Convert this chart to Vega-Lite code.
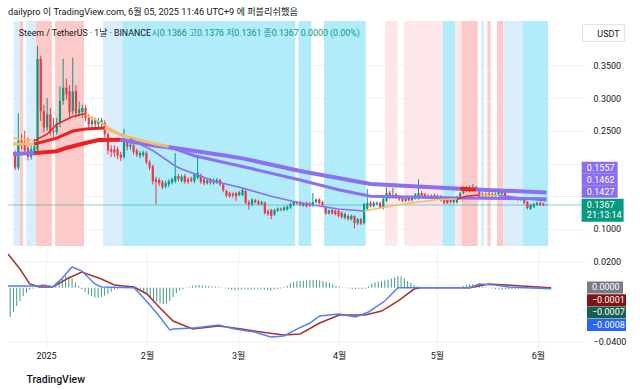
{
  "$schema": "https://vega.github.io/schema/vega-lite/v6.json",
  "padding": {"left": 7, "top": 7, "right": 0, "bottom": 0},
  "background": "white",
  "spacing": 3,
  "title": {"text": "dailypro 이 TradingView.com, 6월 05, 2025 11:46 UTC+9 에 퍼블리쉬했음", "anchor": "start", "frame": "group", "fontSize": 9.2, "fontWeight": "normal", "color": "#131722", "offset": 4},
  "config": {
    "font": "Roboto, 'Noto Sans CJK KR', sans-serif",
    "view": {"stroke": null},
    "axis": {"gridColor": "#eef1f6", "labelColor": "#131722", "labelFontSize": 9, "labelFont": "Roboto, 'Noto Sans CJK KR', sans-serif"}
  },
  "datasets": {
    "candles": [
      {"date": "2024-12-21", "open": 0.2145, "high": 0.22, "low": 0.19, "close": 0.194, "hist": -0.022},
      {"date": "2024-12-22", "open": 0.194, "high": 0.277, "low": 0.19, "close": 0.235, "hist": -0.018},
      {"date": "2024-12-23", "open": 0.235, "high": 0.245, "low": 0.222, "close": 0.228, "hist": -0.0137},
      {"date": "2024-12-24", "open": 0.232, "high": 0.25, "low": 0.215, "close": 0.22, "hist": -0.01},
      {"date": "2024-12-25", "open": 0.224, "high": 0.24, "low": 0.205, "close": 0.21, "hist": -0.0062},
      {"date": "2024-12-26", "open": 0.21, "high": 0.228, "low": 0.206, "close": 0.222, "hist": -0.0037},
      {"date": "2024-12-27", "open": 0.218, "high": 0.238, "low": 0.212, "close": 0.226, "hist": -0.0017},
      {"date": "2024-12-28", "open": 0.22, "high": 0.38, "low": 0.215, "close": 0.36, "hist": -0.0007},
      {"date": "2024-12-29", "open": 0.36, "high": 0.365, "low": 0.265, "close": 0.28, "hist": 0.0003},
      {"date": "2024-12-30", "open": 0.28, "high": 0.29, "low": 0.248, "close": 0.255, "hist": -0.0003},
      {"date": "2024-12-31", "open": 0.255, "high": 0.30, "low": 0.25, "close": 0.275, "hist": 0.0002},
      {"date": "2025-01-01", "open": 0.275, "high": 0.285, "low": 0.243, "close": 0.25, "hist": -0.0002},
      {"date": "2025-01-02", "open": 0.25, "high": 0.27, "low": 0.24, "close": 0.248, "hist": 0.0003},
      {"date": "2025-01-03", "open": 0.248, "high": 0.27, "low": 0.244, "close": 0.262, "hist": 0.0008},
      {"date": "2025-01-04", "open": 0.262, "high": 0.318, "low": 0.255, "close": 0.296, "hist": 0.002},
      {"date": "2025-01-05", "open": 0.296, "high": 0.36, "low": 0.29, "close": 0.316, "hist": 0.005},
      {"date": "2025-01-06", "open": 0.316, "high": 0.33, "low": 0.298, "close": 0.306, "hist": 0.007},
      {"date": "2025-01-07", "open": 0.311, "high": 0.32, "low": 0.27, "close": 0.278, "hist": 0.0087},
      {"date": "2025-01-08", "open": 0.28, "high": 0.362, "low": 0.275, "close": 0.31, "hist": 0.0085},
      {"date": "2025-01-09", "open": 0.311, "high": 0.32, "low": 0.27, "close": 0.277, "hist": 0.007},
      {"date": "2025-01-10", "open": 0.277, "high": 0.295, "low": 0.272, "close": 0.283, "hist": 0.004},
      {"date": "2025-01-11", "open": 0.279, "high": 0.29, "low": 0.27, "close": 0.285, "hist": 0.0015},
      {"date": "2025-01-12", "open": 0.285, "high": 0.29, "low": 0.265, "close": 0.27, "hist": -0.001},
      {"date": "2025-01-13", "open": 0.27, "high": 0.276, "low": 0.255, "close": 0.26, "hist": -0.003},
      {"date": "2025-01-14", "open": 0.26, "high": 0.272, "low": 0.252, "close": 0.266, "hist": -0.005},
      {"date": "2025-01-15", "open": 0.266, "high": 0.27, "low": 0.256, "close": 0.26, "hist": -0.0065},
      {"date": "2025-01-16", "open": 0.26, "high": 0.27, "low": 0.254, "close": 0.265, "hist": -0.0075},
      {"date": "2025-01-17", "open": 0.262, "high": 0.27, "low": 0.255, "close": 0.266, "hist": -0.0077},
      {"date": "2025-01-18", "open": 0.262, "high": 0.266, "low": 0.24, "close": 0.245, "hist": -0.007},
      {"date": "2025-01-19", "open": 0.245, "high": 0.248, "low": 0.214, "close": 0.22, "hist": -0.006},
      {"date": "2025-01-20", "open": 0.222, "high": 0.228, "low": 0.21, "close": 0.218, "hist": -0.0045},
      {"date": "2025-01-21", "open": 0.222, "high": 0.228, "low": 0.21, "close": 0.217, "hist": -0.003},
      {"date": "2025-01-22", "open": 0.222, "high": 0.226, "low": 0.207, "close": 0.212, "hist": -0.0015},
      {"date": "2025-01-23", "open": 0.214, "high": 0.218, "low": 0.204, "close": 0.209, "hist": -0.0008},
      {"date": "2025-01-24", "open": 0.21, "high": 0.253, "low": 0.207, "close": 0.233, "hist": -0.0003},
      {"date": "2025-01-25", "open": 0.233, "high": 0.237, "low": 0.22, "close": 0.226, "hist": -0.0003},
      {"date": "2025-01-26", "open": 0.226, "high": 0.232, "low": 0.221, "close": 0.229, "hist": -0.0003},
      {"date": "2025-01-27", "open": 0.228, "high": 0.23, "low": 0.214, "close": 0.218, "hist": -0.0003},
      {"date": "2025-01-28", "open": 0.22, "high": 0.223, "low": 0.21, "close": 0.214, "hist": -0.0005},
      {"date": "2025-01-29", "open": 0.212, "high": 0.219, "low": 0.208, "close": 0.216, "hist": -0.0005},
      {"date": "2025-01-30", "open": 0.213, "high": 0.22, "low": 0.21, "close": 0.217, "hist": -0.001},
      {"date": "2025-01-31", "open": 0.216, "high": 0.219, "low": 0.199, "close": 0.202, "hist": -0.003},
      {"date": "2025-02-01", "open": 0.202, "high": 0.205, "low": 0.19, "close": 0.194, "hist": -0.005},
      {"date": "2025-02-02", "open": 0.196, "high": 0.198, "low": 0.168, "close": 0.173, "hist": -0.007},
      {"date": "2025-02-03", "open": 0.176, "high": 0.18, "low": 0.138, "close": 0.172, "hist": -0.009},
      {"date": "2025-02-04", "open": 0.175, "high": 0.178, "low": 0.166, "close": 0.17, "hist": -0.0105},
      {"date": "2025-02-05", "open": 0.172, "high": 0.175, "low": 0.161, "close": 0.164, "hist": -0.0118},
      {"date": "2025-02-06", "open": 0.165, "high": 0.174, "low": 0.162, "close": 0.17, "hist": -0.0123},
      {"date": "2025-02-07", "open": 0.168, "high": 0.176, "low": 0.164, "close": 0.173, "hist": -0.0118},
      {"date": "2025-02-08", "open": 0.171, "high": 0.179, "low": 0.168, "close": 0.176, "hist": -0.01},
      {"date": "2025-02-09", "open": 0.173, "high": 0.216, "low": 0.17, "close": 0.181, "hist": -0.007},
      {"date": "2025-02-10", "open": 0.181, "high": 0.184, "low": 0.173, "close": 0.176, "hist": -0.004},
      {"date": "2025-02-11", "open": 0.174, "high": 0.183, "low": 0.171, "close": 0.18, "hist": -0.002},
      {"date": "2025-02-12", "open": 0.181, "high": 0.184, "low": 0.169, "close": 0.172, "hist": -0.001},
      {"date": "2025-02-13", "open": 0.176, "high": 0.179, "low": 0.169, "close": 0.172, "hist": -0.0003},
      {"date": "2025-02-14", "open": 0.177, "high": 0.18, "low": 0.171, "close": 0.174, "hist": 0.0005},
      {"date": "2025-02-15", "open": 0.173, "high": 0.186, "low": 0.17, "close": 0.183, "hist": 0.0015},
      {"date": "2025-02-16", "open": 0.178, "high": 0.209, "low": 0.176, "close": 0.186, "hist": 0.002},
      {"date": "2025-02-17", "open": 0.182, "high": 0.185, "low": 0.169, "close": 0.172, "hist": 0.002},
      {"date": "2025-02-18", "open": 0.176, "high": 0.178, "low": 0.167, "close": 0.17, "hist": 0.0018},
      {"date": "2025-02-19", "open": 0.17, "high": 0.177, "low": 0.168, "close": 0.174, "hist": 0.0015},
      {"date": "2025-02-20", "open": 0.175, "high": 0.178, "low": 0.168, "close": 0.171, "hist": 0.0012},
      {"date": "2025-02-21", "open": 0.17, "high": 0.177, "low": 0.168, "close": 0.175, "hist": 0.001},
      {"date": "2025-02-22", "open": 0.171, "high": 0.178, "low": 0.169, "close": 0.175, "hist": 0.0008},
      {"date": "2025-02-23", "open": 0.175, "high": 0.177, "low": 0.165, "close": 0.168, "hist": 0.0005},
      {"date": "2025-02-24", "open": 0.168, "high": 0.17, "low": 0.156, "close": 0.159, "hist": 0.0002},
      {"date": "2025-02-25", "open": 0.158, "high": 0.16, "low": 0.148, "close": 0.151, "hist": -0.0005},
      {"date": "2025-02-26", "open": 0.155, "high": 0.157, "low": 0.148, "close": 0.15, "hist": -0.001},
      {"date": "2025-02-27", "open": 0.154, "high": 0.156, "low": 0.148, "close": 0.151, "hist": -0.0015},
      {"date": "2025-02-28", "open": 0.155, "high": 0.157, "low": 0.143, "close": 0.15, "hist": -0.0018},
      {"date": "2025-03-01", "open": 0.152, "high": 0.158, "low": 0.15, "close": 0.156, "hist": -0.0015},
      {"date": "2025-03-02", "open": 0.152, "high": 0.162, "low": 0.15, "close": 0.16, "hist": -0.0012},
      {"date": "2025-03-03", "open": 0.158, "high": 0.161, "low": 0.138, "close": 0.14, "hist": -0.0012},
      {"date": "2025-03-04", "open": 0.141, "high": 0.144, "low": 0.13, "close": 0.137, "hist": -0.0015},
      {"date": "2025-03-05", "open": 0.138, "high": 0.147, "low": 0.135, "close": 0.145, "hist": -0.0015},
      {"date": "2025-03-06", "open": 0.144, "high": 0.146, "low": 0.139, "close": 0.141, "hist": -0.0012},
      {"date": "2025-03-07", "open": 0.142, "high": 0.145, "low": 0.136, "close": 0.138, "hist": -0.0012},
      {"date": "2025-03-08", "open": 0.138, "high": 0.143, "low": 0.136, "close": 0.141, "hist": -0.0013},
      {"date": "2025-03-09", "open": 0.14, "high": 0.142, "low": 0.122, "close": 0.124, "hist": -0.0015},
      {"date": "2025-03-10", "open": 0.127, "high": 0.13, "low": 0.12, "close": 0.123, "hist": -0.0018},
      {"date": "2025-03-11", "open": 0.129, "high": 0.131, "low": 0.115, "close": 0.12, "hist": -0.002},
      {"date": "2025-03-12", "open": 0.122, "high": 0.131, "low": 0.12, "close": 0.129, "hist": -0.0015},
      {"date": "2025-03-13", "open": 0.128, "high": 0.133, "low": 0.126, "close": 0.131, "hist": -0.001},
      {"date": "2025-03-14", "open": 0.131, "high": 0.133, "low": 0.127, "close": 0.129, "hist": -0.0005},
      {"date": "2025-03-15", "open": 0.129, "high": 0.135, "low": 0.127, "close": 0.133, "hist": 0.0005},
      {"date": "2025-03-16", "open": 0.13, "high": 0.136, "low": 0.128, "close": 0.134, "hist": 0.0015},
      {"date": "2025-03-17", "open": 0.133, "high": 0.14, "low": 0.131, "close": 0.138, "hist": 0.003},
      {"date": "2025-03-18", "open": 0.137, "high": 0.143, "low": 0.135, "close": 0.141, "hist": 0.004},
      {"date": "2025-03-19", "open": 0.141, "high": 0.143, "low": 0.137, "close": 0.139, "hist": 0.0048},
      {"date": "2025-03-20", "open": 0.141, "high": 0.143, "low": 0.135, "close": 0.137, "hist": 0.005},
      {"date": "2025-03-21", "open": 0.136, "high": 0.141, "low": 0.134, "close": 0.139, "hist": 0.0052},
      {"date": "2025-03-22", "open": 0.14, "high": 0.142, "low": 0.133, "close": 0.135, "hist": 0.0055},
      {"date": "2025-03-23", "open": 0.139, "high": 0.141, "low": 0.134, "close": 0.136, "hist": 0.0058},
      {"date": "2025-03-24", "open": 0.136, "high": 0.155, "low": 0.134, "close": 0.141, "hist": 0.0058},
      {"date": "2025-03-25", "open": 0.141, "high": 0.147, "low": 0.139, "close": 0.145, "hist": 0.0058},
      {"date": "2025-03-26", "open": 0.145, "high": 0.147, "low": 0.137, "close": 0.139, "hist": 0.0055},
      {"date": "2025-03-27", "open": 0.141, "high": 0.143, "low": 0.134, "close": 0.136, "hist": 0.005},
      {"date": "2025-03-28", "open": 0.133, "high": 0.135, "low": 0.122, "close": 0.124, "hist": 0.0045},
      {"date": "2025-03-29", "open": 0.124, "high": 0.13, "low": 0.122, "close": 0.128, "hist": 0.0035},
      {"date": "2025-03-30", "open": 0.129, "high": 0.131, "low": 0.122, "close": 0.124, "hist": 0.0025},
      {"date": "2025-03-31", "open": 0.128, "high": 0.13, "low": 0.121, "close": 0.123, "hist": 0.0015},
      {"date": "2025-04-01", "open": 0.128, "high": 0.13, "low": 0.118, "close": 0.12, "hist": 0.0008},
      {"date": "2025-04-02", "open": 0.125, "high": 0.127, "low": 0.116, "close": 0.118, "hist": 0.0003},
      {"date": "2025-04-03", "open": 0.117, "high": 0.125, "low": 0.115, "close": 0.123, "hist": -0.0003},
      {"date": "2025-04-04", "open": 0.12, "high": 0.122, "low": 0.113, "close": 0.115, "hist": -0.0006},
      {"date": "2025-04-05", "open": 0.115, "high": 0.122, "low": 0.113, "close": 0.12, "hist": -0.0008},
      {"date": "2025-04-06", "open": 0.12, "high": 0.121, "low": 0.101, "close": 0.109, "hist": -0.001},
      {"date": "2025-04-07", "open": 0.109, "high": 0.117, "low": 0.106, "close": 0.115, "hist": -0.001},
      {"date": "2025-04-08", "open": 0.115, "high": 0.117, "low": 0.106, "close": 0.108, "hist": -0.0012},
      {"date": "2025-04-09", "open": 0.109, "high": 0.14, "low": 0.107, "close": 0.138, "hist": -0.0008},
      {"date": "2025-04-10", "open": 0.131, "high": 0.161, "low": 0.129, "close": 0.14, "hist": 0.001},
      {"date": "2025-04-11", "open": 0.14, "high": 0.143, "low": 0.133, "close": 0.135, "hist": 0.003},
      {"date": "2025-04-12", "open": 0.135, "high": 0.142, "low": 0.133, "close": 0.14, "hist": 0.004},
      {"date": "2025-04-13", "open": 0.138, "high": 0.142, "low": 0.136, "close": 0.14, "hist": 0.0045},
      {"date": "2025-04-14", "open": 0.14, "high": 0.142, "low": 0.131, "close": 0.133, "hist": 0.005},
      {"date": "2025-04-15", "open": 0.132, "high": 0.148, "low": 0.13, "close": 0.146, "hist": 0.0055},
      {"date": "2025-04-16", "open": 0.143, "high": 0.163, "low": 0.141, "close": 0.155, "hist": 0.006},
      {"date": "2025-04-17", "open": 0.155, "high": 0.158, "low": 0.146, "close": 0.148, "hist": 0.0068},
      {"date": "2025-04-18", "open": 0.149, "high": 0.163, "low": 0.147, "close": 0.152, "hist": 0.0078},
      {"date": "2025-04-19", "open": 0.153, "high": 0.155, "low": 0.146, "close": 0.148, "hist": 0.0087},
      {"date": "2025-04-20", "open": 0.15, "high": 0.152, "low": 0.143, "close": 0.145, "hist": 0.0085},
      {"date": "2025-04-21", "open": 0.148, "high": 0.15, "low": 0.141, "close": 0.143, "hist": 0.007},
      {"date": "2025-04-22", "open": 0.143, "high": 0.149, "low": 0.141, "close": 0.147, "hist": 0.005},
      {"date": "2025-04-23", "open": 0.148, "high": 0.15, "low": 0.142, "close": 0.144, "hist": 0.0035},
      {"date": "2025-04-24", "open": 0.144, "high": 0.151, "low": 0.142, "close": 0.149, "hist": 0.002},
      {"date": "2025-04-25", "open": 0.147, "high": 0.155, "low": 0.145, "close": 0.153, "hist": 0.001},
      {"date": "2025-04-26", "open": 0.147, "high": 0.176, "low": 0.145, "close": 0.155, "hist": 0.0003},
      {"date": "2025-04-27", "open": 0.155, "high": 0.158, "low": 0.149, "close": 0.151, "hist": 0.0001},
      {"date": "2025-04-28", "open": 0.153, "high": 0.155, "low": 0.146, "close": 0.148, "hist": 0.0001},
      {"date": "2025-04-29", "open": 0.151, "high": 0.153, "low": 0.146, "close": 0.148, "hist": 0.0001},
      {"date": "2025-04-30", "open": 0.149, "high": 0.153, "low": 0.147, "close": 0.151, "hist": 0.0001},
      {"date": "2025-05-01", "open": 0.152, "high": 0.154, "low": 0.146, "close": 0.148, "hist": 0.0001},
      {"date": "2025-05-02", "open": 0.148, "high": 0.153, "low": 0.146, "close": 0.151, "hist": 0.0001},
      {"date": "2025-05-03", "open": 0.15, "high": 0.152, "low": 0.142, "close": 0.144, "hist": 0.0001},
      {"date": "2025-05-04", "open": 0.146, "high": 0.148, "low": 0.138, "close": 0.14, "hist": 0.0001},
      {"date": "2025-05-05", "open": 0.146, "high": 0.148, "low": 0.138, "close": 0.14, "hist": 0.0001},
      {"date": "2025-05-06", "open": 0.146, "high": 0.148, "low": 0.139, "close": 0.141, "hist": 0.0001},
      {"date": "2025-05-07", "open": 0.141, "high": 0.147, "low": 0.139, "close": 0.145, "hist": 0.0001},
      {"date": "2025-05-08", "open": 0.141, "high": 0.151, "low": 0.139, "close": 0.149, "hist": 0.0005},
      {"date": "2025-05-09", "open": 0.148, "high": 0.157, "low": 0.146, "close": 0.155, "hist": 0.0015},
      {"date": "2025-05-10", "open": 0.155, "high": 0.165, "low": 0.153, "close": 0.163, "hist": 0.0022},
      {"date": "2025-05-11", "open": 0.163, "high": 0.166, "low": 0.156, "close": 0.158, "hist": 0.0027},
      {"date": "2025-05-12", "open": 0.158, "high": 0.167, "low": 0.156, "close": 0.163, "hist": 0.0027},
      {"date": "2025-05-13", "open": 0.159, "high": 0.169, "low": 0.157, "close": 0.163, "hist": 0.0022},
      {"date": "2025-05-14", "open": 0.16, "high": 0.166, "low": 0.158, "close": 0.163, "hist": 0.0015},
      {"date": "2025-05-15", "open": 0.16, "high": 0.162, "low": 0.147, "close": 0.149, "hist": 0.0008},
      {"date": "2025-05-16", "open": 0.15, "high": 0.156, "low": 0.148, "close": 0.154, "hist": 0.0003},
      {"date": "2025-05-17", "open": 0.154, "high": 0.156, "low": 0.148, "close": 0.15, "hist": -0.0003},
      {"date": "2025-05-18", "open": 0.151, "high": 0.156, "low": 0.149, "close": 0.154, "hist": -0.0006},
      {"date": "2025-05-19", "open": 0.154, "high": 0.156, "low": 0.148, "close": 0.15, "hist": -0.001},
      {"date": "2025-05-20", "open": 0.151, "high": 0.156, "low": 0.149, "close": 0.154, "hist": -0.0012},
      {"date": "2025-05-21", "open": 0.154, "high": 0.159, "low": 0.152, "close": 0.157, "hist": -0.0013},
      {"date": "2025-05-22", "open": 0.154, "high": 0.16, "low": 0.152, "close": 0.158, "hist": -0.0013},
      {"date": "2025-05-23", "open": 0.158, "high": 0.16, "low": 0.145, "close": 0.147, "hist": -0.0012},
      {"date": "2025-05-24", "open": 0.15, "high": 0.152, "low": 0.144, "close": 0.146, "hist": -0.0011},
      {"date": "2025-05-25", "open": 0.146, "high": 0.15, "low": 0.144, "close": 0.148, "hist": -0.001},
      {"date": "2025-05-26", "open": 0.148, "high": 0.15, "low": 0.144, "close": 0.146, "hist": -0.0009},
      {"date": "2025-05-27", "open": 0.148, "high": 0.149, "low": 0.143, "close": 0.145, "hist": -0.0008},
      {"date": "2025-05-28", "open": 0.145, "high": 0.149, "low": 0.143, "close": 0.147, "hist": -0.0008},
      {"date": "2025-05-29", "open": 0.146, "high": 0.148, "low": 0.138, "close": 0.14, "hist": -0.0007},
      {"date": "2025-05-30", "open": 0.141, "high": 0.143, "low": 0.13, "close": 0.132, "hist": -0.0007},
      {"date": "2025-05-31", "open": 0.131, "high": 0.138, "low": 0.129, "close": 0.137, "hist": -0.0007},
      {"date": "2025-06-01", "open": 0.134, "high": 0.14, "low": 0.132, "close": 0.138, "hist": -0.0006},
      {"date": "2025-06-02", "open": 0.137, "high": 0.142, "low": 0.135, "close": 0.14, "hist": -0.0006},
      {"date": "2025-06-03", "open": 0.14, "high": 0.142, "low": 0.135, "close": 0.137, "hist": -0.0006},
      {"date": "2025-06-04", "open": 0.139, "high": 0.14, "low": 0.135, "close": 0.1367, "hist": -0.0006},
      {"date": "2025-06-05", "open": 0.1366, "high": 0.1376, "low": 0.1361, "close": 0.1367, "hist": -0.0007}
    ],
    "bands": [
      {"start": "2024-12-20T12:00:00Z", "end": "2024-12-22T12:00:00Z", "signal": "weak_down"},
      {"start": "2024-12-22T12:00:00Z", "end": "2024-12-23T12:00:00Z", "signal": "strong_up"},
      {"start": "2024-12-24T12:00:00Z", "end": "2024-12-27T12:00:00Z", "signal": "weak_down"},
      {"start": "2024-12-27T12:00:00Z", "end": "2025-01-01T12:00:00Z", "signal": "strong_up"},
      {"start": "2025-01-02T12:00:00Z", "end": "2025-01-11T12:00:00Z", "signal": "strong_up"},
      {"start": "2025-01-17T12:00:00Z", "end": "2025-01-23T12:00:00Z", "signal": "weak_down"},
      {"start": "2025-01-23T12:00:00Z", "end": "2025-03-18T12:00:00Z", "signal": "strong_down"},
      {"start": "2025-03-19T12:00:00Z", "end": "2025-03-23T12:00:00Z", "signal": "strong_down"},
      {"start": "2025-03-27T12:00:00Z", "end": "2025-04-09T12:00:00Z", "signal": "strong_down"},
      {"start": "2025-04-15T12:00:00Z", "end": "2025-04-19T12:00:00Z", "signal": "weak_up"},
      {"start": "2025-04-21T12:00:00Z", "end": "2025-05-03T12:00:00Z", "signal": "weak_up"},
      {"start": "2025-05-03T12:00:00Z", "end": "2025-05-07T12:00:00Z", "signal": "strong_down"},
      {"start": "2025-05-07T12:00:00Z", "end": "2025-05-09T12:00:00Z", "signal": "weak_up"},
      {"start": "2025-05-09T12:00:00Z", "end": "2025-05-14T12:00:00Z", "signal": "strong_up"},
      {"start": "2025-05-15T12:00:00Z", "end": "2025-05-16T12:00:00Z", "signal": "weak_down"},
      {"start": "2025-05-17T12:00:00Z", "end": "2025-05-18T12:00:00Z", "signal": "strong_up"},
      {"start": "2025-05-20T12:00:00Z", "end": "2025-05-22T12:00:00Z", "signal": "strong_up"},
      {"start": "2025-05-22T12:00:00Z", "end": "2025-05-28T12:00:00Z", "signal": "weak_down"},
      {"start": "2025-05-28T12:00:00Z", "end": "2025-06-05T12:00:00Z", "signal": "strong_down"}
    ],
    "ma": [
      {"ma": "A", "seg": "A1", "trend": "flat", "date": "2024-12-20T08:00:00Z", "value": 0.239},
      {"ma": "A", "seg": "A1", "trend": "flat", "date": "2024-12-27", "value": 0.235},
      {"ma": "A", "seg": "A2", "trend": "up", "date": "2024-12-27", "value": 0.235},
      {"ma": "A", "seg": "A2", "trend": "up", "date": "2024-12-31", "value": 0.245},
      {"ma": "A", "seg": "A2", "trend": "up", "date": "2025-01-03", "value": 0.26},
      {"ma": "A", "seg": "A2", "trend": "up", "date": "2025-01-08", "value": 0.272},
      {"ma": "A", "seg": "A2", "trend": "up", "date": "2025-01-11", "value": 0.2755},
      {"ma": "A", "seg": "A2", "trend": "up", "date": "2025-01-12", "value": 0.2755},
      {"ma": "A", "seg": "A3", "trend": "flat", "date": "2025-01-12", "value": 0.2755},
      {"ma": "A", "seg": "A3", "trend": "flat", "date": "2025-01-17", "value": 0.262},
      {"ma": "A", "seg": "A3", "trend": "flat", "date": "2025-01-21", "value": 0.25},
      {"ma": "A", "seg": "A3", "trend": "flat", "date": "2025-01-26", "value": 0.238},
      {"ma": "A", "seg": "A4", "trend": "down", "date": "2025-01-26", "value": 0.238},
      {"ma": "A", "seg": "A4", "trend": "down", "date": "2025-01-27", "value": 0.2346},
      {"ma": "A", "seg": "A4", "trend": "down", "date": "2025-02-02", "value": 0.22},
      {"ma": "A", "seg": "A4", "trend": "down", "date": "2025-02-09", "value": 0.1963},
      {"ma": "A", "seg": "A4", "trend": "down", "date": "2025-02-11", "value": 0.1917},
      {"ma": "A", "seg": "A4", "trend": "down", "date": "2025-02-21", "value": 0.1734},
      {"ma": "A", "seg": "A4", "trend": "down", "date": "2025-03-02", "value": 0.1627},
      {"ma": "A", "seg": "A4", "trend": "down", "date": "2025-03-11", "value": 0.15},
      {"ma": "A", "seg": "A4", "trend": "down", "date": "2025-03-20", "value": 0.1398},
      {"ma": "A", "seg": "A4", "trend": "down", "date": "2025-04-01", "value": 0.1306},
      {"ma": "A", "seg": "A4", "trend": "down", "date": "2025-04-09", "value": 0.1275},
      {"ma": "A", "seg": "A5", "trend": "flat", "date": "2025-04-09", "value": 0.1275},
      {"ma": "A", "seg": "A5", "trend": "flat", "date": "2025-04-14", "value": 0.132},
      {"ma": "A", "seg": "A5", "trend": "flat", "date": "2025-04-20", "value": 0.137},
      {"ma": "A", "seg": "A5", "trend": "flat", "date": "2025-04-26", "value": 0.1413},
      {"ma": "A", "seg": "A5", "trend": "flat", "date": "2025-05-02", "value": 0.145},
      {"ma": "A", "seg": "A5", "trend": "flat", "date": "2025-05-08", "value": 0.1459},
      {"ma": "A", "seg": "A6", "trend": "up", "date": "2025-05-08", "value": 0.1459},
      {"ma": "A", "seg": "A6", "trend": "up", "date": "2025-05-11", "value": 0.15},
      {"ma": "A", "seg": "A6", "trend": "up", "date": "2025-05-15", "value": 0.152},
      {"ma": "A", "seg": "A7", "trend": "flat", "date": "2025-05-15", "value": 0.152},
      {"ma": "A", "seg": "A7", "trend": "flat", "date": "2025-05-21", "value": 0.151},
      {"ma": "A", "seg": "A8", "trend": "down", "date": "2025-05-21", "value": 0.151},
      {"ma": "A", "seg": "A8", "trend": "down", "date": "2025-05-27", "value": 0.148},
      {"ma": "A", "seg": "A8", "trend": "down", "date": "2025-06-05", "value": 0.1427},
      {"ma": "B", "seg": "B1", "trend": "flat", "date": "2024-12-20T08:00:00Z", "value": 0.23},
      {"ma": "B", "seg": "B1", "trend": "flat", "date": "2024-12-27", "value": 0.23},
      {"ma": "B", "seg": "B2", "trend": "up", "date": "2024-12-27", "value": 0.23},
      {"ma": "B", "seg": "B2", "trend": "up", "date": "2025-01-03", "value": 0.239},
      {"ma": "B", "seg": "B2", "trend": "up", "date": "2025-01-08", "value": 0.2498},
      {"ma": "B", "seg": "B2", "trend": "up", "date": "2025-01-12", "value": 0.2529},
      {"ma": "B", "seg": "B2", "trend": "up", "date": "2025-01-18", "value": 0.2544},
      {"ma": "B", "seg": "B3", "trend": "flat", "date": "2025-01-18", "value": 0.2544},
      {"ma": "B", "seg": "B3", "trend": "flat", "date": "2025-01-24", "value": 0.2422},
      {"ma": "B", "seg": "B3", "trend": "flat", "date": "2025-01-30", "value": 0.2346},
      {"ma": "B", "seg": "B3", "trend": "flat", "date": "2025-02-03", "value": 0.23},
      {"ma": "B", "seg": "B3", "trend": "flat", "date": "2025-02-07", "value": 0.226},
      {"ma": "B", "seg": "B4", "trend": "down", "date": "2025-02-07", "value": 0.226},
      {"ma": "B", "seg": "B4", "trend": "down", "date": "2025-02-15", "value": 0.212},
      {"ma": "B", "seg": "B4", "trend": "down", "date": "2025-02-25", "value": 0.2009},
      {"ma": "B", "seg": "B4", "trend": "down", "date": "2025-03-02", "value": 0.1956},
      {"ma": "B", "seg": "B4", "trend": "down", "date": "2025-03-20", "value": 0.1749},
      {"ma": "B", "seg": "B4", "trend": "down", "date": "2025-04-01", "value": 0.16},
      {"ma": "B", "seg": "B4", "trend": "down", "date": "2025-04-11", "value": 0.15},
      {"ma": "B", "seg": "B4", "trend": "down", "date": "2025-05-08", "value": 0.1474},
      {"ma": "B", "seg": "B4", "trend": "down", "date": "2025-06-05", "value": 0.1462},
      {"ma": "C", "seg": "C1", "trend": "down", "date": "2024-12-20T08:00:00Z", "value": 0.2147},
      {"ma": "C", "seg": "C1", "trend": "down", "date": "2024-12-27", "value": 0.216},
      {"ma": "C", "seg": "C2", "trend": "up", "date": "2024-12-27", "value": 0.216},
      {"ma": "C", "seg": "C2", "trend": "up", "date": "2025-01-03", "value": 0.219},
      {"ma": "C", "seg": "C2", "trend": "up", "date": "2025-01-06", "value": 0.2239},
      {"ma": "C", "seg": "C2", "trend": "up", "date": "2025-01-12", "value": 0.2315},
      {"ma": "C", "seg": "C2", "trend": "up", "date": "2025-01-16", "value": 0.236},
      {"ma": "C", "seg": "C2", "trend": "up", "date": "2025-01-23", "value": 0.2365},
      {"ma": "C", "seg": "C3", "trend": "down", "date": "2025-01-23", "value": 0.2365},
      {"ma": "C", "seg": "C3", "trend": "down", "date": "2025-02-02", "value": 0.228},
      {"ma": "C", "seg": "C3", "trend": "down", "date": "2025-02-11", "value": 0.2223},
      {"ma": "C", "seg": "C3", "trend": "down", "date": "2025-02-25", "value": 0.212},
      {"ma": "C", "seg": "C3", "trend": "down", "date": "2025-03-02", "value": 0.208},
      {"ma": "C", "seg": "C3", "trend": "down", "date": "2025-03-20", "value": 0.1887},
      {"ma": "C", "seg": "C3", "trend": "down", "date": "2025-04-11", "value": 0.1688},
      {"ma": "C", "seg": "C3", "trend": "down", "date": "2025-05-09", "value": 0.1615},
      {"ma": "C", "seg": "C4", "trend": "up", "date": "2025-05-09", "value": 0.1615},
      {"ma": "C", "seg": "C4", "trend": "up", "date": "2025-05-14", "value": 0.1605},
      {"ma": "C", "seg": "C5", "trend": "down", "date": "2025-05-14", "value": 0.1605},
      {"ma": "C", "seg": "C5", "trend": "down", "date": "2025-06-05", "value": 0.1557}
    ],
    "macd": [
      {"line": "MACD", "date": "2024-12-20T08:00:00Z", "value": 0.0013},
      {"line": "MACD", "date": "2024-12-30", "value": 0.0013},
      {"line": "MACD", "date": "2024-12-31", "value": 0.002},
      {"line": "MACD", "date": "2025-01-02", "value": 0.0013},
      {"line": "MACD", "date": "2025-01-03", "value": 0.0005},
      {"line": "MACD", "date": "2025-01-06", "value": 0.0073},
      {"line": "MACD", "date": "2025-01-09", "value": 0.0155},
      {"line": "MACD", "date": "2025-01-12", "value": 0.0125},
      {"line": "MACD", "date": "2025-01-16", "value": 0.0028},
      {"line": "MACD", "date": "2025-01-18", "value": 0.0005},
      {"line": "MACD", "date": "2025-01-28", "value": 0.0},
      {"line": "MACD", "date": "2025-01-31", "value": -0.0077},
      {"line": "MACD", "date": "2025-02-04", "value": -0.019},
      {"line": "MACD", "date": "2025-02-08", "value": -0.0317},
      {"line": "MACD", "date": "2025-02-09", "value": -0.031},
      {"line": "MACD", "date": "2025-02-15", "value": -0.0302},
      {"line": "MACD", "date": "2025-02-18", "value": -0.0295},
      {"line": "MACD", "date": "2025-02-23", "value": -0.028},
      {"line": "MACD", "date": "2025-02-28", "value": -0.031},
      {"line": "MACD", "date": "2025-03-06", "value": -0.0332},
      {"line": "MACD", "date": "2025-03-11", "value": -0.037},
      {"line": "MACD", "date": "2025-03-15", "value": -0.0362},
      {"line": "MACD", "date": "2025-03-19", "value": -0.031},
      {"line": "MACD", "date": "2025-03-23", "value": -0.0265},
      {"line": "MACD", "date": "2025-03-26", "value": -0.0212},
      {"line": "MACD", "date": "2025-04-01", "value": -0.0197},
      {"line": "MACD", "date": "2025-04-06", "value": -0.022},
      {"line": "MACD", "date": "2025-04-10", "value": -0.0182},
      {"line": "MACD", "date": "2025-04-15", "value": -0.01},
      {"line": "MACD", "date": "2025-04-19", "value": 0.0},
      {"line": "MACD", "date": "2025-05-11", "value": 0.0},
      {"line": "MACD", "date": "2025-05-14", "value": 0.0028},
      {"line": "MACD", "date": "2025-05-19", "value": 0.002},
      {"line": "MACD", "date": "2025-05-23", "value": 0.0005},
      {"line": "MACD", "date": "2025-06-05", "value": -0.0008},
      {"line": "Signal", "date": "2024-12-20T08:00:00Z", "value": 0.0253},
      {"line": "Signal", "date": "2024-12-24", "value": 0.014},
      {"line": "Signal", "date": "2024-12-27", "value": 0.0028},
      {"line": "Signal", "date": "2024-12-30", "value": 0.0005},
      {"line": "Signal", "date": "2025-01-03", "value": 0.0005},
      {"line": "Signal", "date": "2025-01-08", "value": 0.0073},
      {"line": "Signal", "date": "2025-01-12", "value": 0.0118},
      {"line": "Signal", "date": "2025-01-18", "value": 0.0065},
      {"line": "Signal", "date": "2025-01-22", "value": 0.002},
      {"line": "Signal", "date": "2025-01-28", "value": 0.0005},
      {"line": "Signal", "date": "2025-02-01", "value": -0.0047},
      {"line": "Signal", "date": "2025-02-05", "value": -0.0152},
      {"line": "Signal", "date": "2025-02-09", "value": -0.025},
      {"line": "Signal", "date": "2025-02-15", "value": -0.031},
      {"line": "Signal", "date": "2025-02-23", "value": -0.0287},
      {"line": "Signal", "date": "2025-03-02", "value": -0.031},
      {"line": "Signal", "date": "2025-03-08", "value": -0.0332},
      {"line": "Signal", "date": "2025-03-15", "value": -0.0355},
      {"line": "Signal", "date": "2025-03-20", "value": -0.0347},
      {"line": "Signal", "date": "2025-03-26", "value": -0.0265},
      {"line": "Signal", "date": "2025-04-01", "value": -0.0205},
      {"line": "Signal", "date": "2025-04-09", "value": -0.0205},
      {"line": "Signal", "date": "2025-04-14", "value": -0.0175},
      {"line": "Signal", "date": "2025-04-19", "value": -0.01},
      {"line": "Signal", "date": "2025-04-24", "value": -0.001},
      {"line": "Signal", "date": "2025-04-26", "value": 0.0},
      {"line": "Signal", "date": "2025-05-11", "value": 0.0},
      {"line": "Signal", "date": "2025-05-17", "value": 0.0028},
      {"line": "Signal", "date": "2025-05-27", "value": 0.0013},
      {"line": "Signal", "date": "2025-06-05", "value": -0.0001}
    ]
  },
  "vconcat": [
    {
      "width": 578,
      "height": 225,
      "resolve": {"scale": {"color": "independent"}},
      "layer": [
        {
          "data": {"name": "bands"},
          "mark": {"type": "rect"},
          "encoding": {
            "x": {"field": "start", "type": "temporal", "scale": {"type": "utc", "nice": false, "domain": [{"year": 2024, "month": 12, "date": 20, "hours": 8, "utc": true}, {"year": 2025, "month": 6, "date": 15, "hours": 18, "utc": true}]},
                  "axis": {"values": [{"year": 2025, "month": 1, "date": 1, "utc": true}, {"year": 2025, "month": 2, "date": 1, "utc": true}, {"year": 2025, "month": 3, "date": 1, "utc": true}, {"year": 2025, "month": 4, "date": 1, "utc": true}, {"year": 2025, "month": 5, "date": 1, "utc": true}, {"year": 2025, "month": 6, "date": 1, "utc": true}], "labels": false, "ticks": false, "domain": false, "grid": true, "title": null}},
            "x2": {"field": "end"},
            "color": {"field": "signal", "type": "nominal", "scale": {"domain": ["strong_up", "weak_up", "weak_down", "strong_down"], "range": ["#fdcaca", "#fde7e9", "#daedfa", "#b2ebf9"]}, "legend": null}
          }
        },
        {
          "data": {"name": "candles"},
          "mark": {"type": "rule", "strokeWidth": 1},
          "encoding": {
            "x": {"field": "date", "type": "temporal", "scale": {"type": "utc", "nice": false, "domain": [{"year": 2024, "month": 12, "date": 20, "hours": 8, "utc": true}, {"year": 2025, "month": 6, "date": 15, "hours": 18, "utc": true}]}},
            "y": {"field": "low", "type": "quantitative", "scale": {"domain": [0.074, 0.418], "nice": false, "zero": false},
                  "axis": {"orient": "right", "values": [0.1, 0.15, 0.2, 0.25, 0.3, 0.35], "format": ".4f", "labelExpr": "datum.value > 0.14 && datum.value < 0.21 ? '' : datum.label", "ticks": false, "domain": false, "labelPadding": 7, "grid": true, "title": "USDT", "titleAngle": 0, "titleX": 22, "titleY": 12, "titleAlign": "center", "titleBaseline": "middle", "titleFontSize": 9, "titleFontWeight": "normal", "titleColor": "#131722"}},
            "y2": {"field": "high"},
            "color": {"condition": {"test": "datum.close >= datum.open", "value": "#089981"}, "value": "#f23645"}
          }
        },
        {
          "data": {"values": [{}]},
          "mark": {"type": "rule", "color": "#089981", "opacity": 0.45, "strokeWidth": 1},
          "encoding": {
            "y": {"datum": 0.1367, "type": "quantitative", "scale": {"domain": [0.074, 0.418], "nice": false, "zero": false}}
          }
        },
        {
          "data": {"name": "candles"},
          "mark": {"type": "bar", "width": 2.2},
          "encoding": {
            "x": {"field": "date", "type": "temporal", "scale": {"type": "utc", "nice": false, "domain": [{"year": 2024, "month": 12, "date": 20, "hours": 8, "utc": true}, {"year": 2025, "month": 6, "date": 15, "hours": 18, "utc": true}]}},
            "y": {"field": "open", "type": "quantitative", "scale": {"domain": [0.074, 0.418], "nice": false, "zero": false}},
            "y2": {"field": "close"},
            "color": {"condition": {"test": "datum.close >= datum.open", "value": "#089981"}, "value": "#f23645"}
          }
        },
        {
          "data": {"name": "ma"},
          "transform": [{"filter": "datum.ma == 'C'"}],
          "mark": {"type": "line", "strokeWidth": 4, "clip": true},
          "encoding": {
            "x": {"field": "date", "type": "temporal", "scale": {"type": "utc", "nice": false, "domain": [{"year": 2024, "month": 12, "date": 20, "hours": 8, "utc": true}, {"year": 2025, "month": 6, "date": 15, "hours": 18, "utc": true}]}},
            "y": {"field": "value", "type": "quantitative", "scale": {"domain": [0.074, 0.418], "nice": false, "zero": false}},
            "detail": {"field": "seg"},
            "color": {"field": "trend", "type": "nominal", "scale": {"domain": ["up", "flat", "down"], "range": ["#f01e1e", "#f6bb68", "#8a70f2"]}, "legend": null}
          }
        },
        {
          "data": {"name": "ma"},
          "transform": [{"filter": "datum.ma == 'B'"}],
          "mark": {"type": "line", "strokeWidth": 3, "clip": true},
          "encoding": {
            "x": {"field": "date", "type": "temporal", "scale": {"type": "utc", "nice": false, "domain": [{"year": 2024, "month": 12, "date": 20, "hours": 8, "utc": true}, {"year": 2025, "month": 6, "date": 15, "hours": 18, "utc": true}]}},
            "y": {"field": "value", "type": "quantitative", "scale": {"domain": [0.074, 0.418], "nice": false, "zero": false}},
            "detail": {"field": "seg"},
            "color": {"field": "trend", "type": "nominal", "scale": {"domain": ["up", "flat", "down"], "range": ["#f01e1e", "#f6bb68", "#8a70f2"]}, "legend": null}
          }
        },
        {
          "data": {"name": "ma"},
          "transform": [{"filter": "datum.ma == 'A'"}],
          "mark": {"type": "line", "strokeWidth": 1.6, "clip": true},
          "encoding": {
            "x": {"field": "date", "type": "temporal", "scale": {"type": "utc", "nice": false, "domain": [{"year": 2024, "month": 12, "date": 20, "hours": 8, "utc": true}, {"year": 2025, "month": 6, "date": 15, "hours": 18, "utc": true}]}},
            "y": {"field": "value", "type": "quantitative", "scale": {"domain": [0.074, 0.418], "nice": false, "zero": false}},
            "detail": {"field": "seg"},
            "color": {"field": "trend", "type": "nominal", "scale": {"domain": ["up", "flat", "down"], "range": ["#f01e1e", "#f6bb68", "#8a70f2"]}, "legend": null}
          }
        },
        {
          "data": {"values": [{}]},
          "encoding": {
            "y": {"datum": 0.3997, "type": "quantitative", "scale": {"domain": [0.074, 0.418], "nice": false, "zero": false}}
          },
          "layer": [
            {"mark": {"type": "text", "align": "left", "baseline": "middle", "fontSize": 8.8, "color": "#131722"},
             "encoding": {"x": {"datum": {"year": 2024, "month": 12, "date": 22, "hours": 4, "utc": true}, "type": "temporal", "scale": {"type": "utc", "nice": false, "domain": [{"year": 2024, "month": 12, "date": 20, "hours": 8, "utc": true}, {"year": 2025, "month": 6, "date": 15, "hours": 18, "utc": true}]}},
                          "text": {"value": "Steem / TetherUS · 1날 · BINANCE"}}},
            {"mark": {"type": "text", "align": "left", "baseline": "middle", "fontSize": 8.8, "color": "#089981"},
             "encoding": {"x": {"datum": {"year": 2025, "month": 2, "date": 1, "hours": 15, "utc": true}, "type": "temporal", "scale": {"type": "utc", "nice": false, "domain": [{"year": 2024, "month": 12, "date": 20, "hours": 8, "utc": true}, {"year": 2025, "month": 6, "date": 15, "hours": 18, "utc": true}]}},
                          "text": {"value": "시0.1366  고0.1376  저0.1361  종0.1367  0.0000 (0.00%)"}}},
            {"mark": {"type": "point", "shape": "M-1.235,-0.5H1.235V0.5H-1.235Z", "size": 1156, "filled": false, "opacity": 1, "stroke": "#e0e3eb", "strokeWidth": 1},
             "encoding": {"x": {"datum": {"year": 2025, "month": 6, "date": 22, "hours": 18, "utc": true}, "type": "temporal", "scale": {"type": "utc", "nice": false, "domain": [{"year": 2024, "month": 12, "date": 20, "hours": 8, "utc": true}, {"year": 2025, "month": 6, "date": 15, "hours": 18, "utc": true}]}}}}
          ]
        },
        {
          "data": {"values": [{}]},
          "encoding": {"y": {"datum": 0.1557, "type": "quantitative", "scale": {"domain": [0.074, 0.418], "nice": false, "zero": false}}},
          "layer": [
            {"mark": {"type": "point", "shape": "M-1.5,-0.5H1.5V0.5H-1.5Z", "size": 576, "filled": true, "opacity": 1, "color": "#8a6df2", "yOffset": -24.9},
             "encoding": {"x": {"datum": {"year": 2025, "month": 6, "date": 21, "hours": 14, "utc": true}, "type": "temporal", "scale": {"type": "utc", "nice": false, "domain": [{"year": 2024, "month": 12, "date": 20, "hours": 8, "utc": true}, {"year": 2025, "month": 6, "date": 15, "hours": 18, "utc": true}]}}}},
            {"mark": {"type": "text", "align": "left", "baseline": "middle", "fontSize": 9, "color": "white", "yOffset": -24.9},
             "encoding": {"x": {"datum": {"year": 2025, "month": 6, "date": 17, "hours": 14, "utc": true}, "type": "temporal", "scale": {"type": "utc", "nice": false, "domain": [{"year": 2024, "month": 12, "date": 20, "hours": 8, "utc": true}, {"year": 2025, "month": 6, "date": 15, "hours": 18, "utc": true}]}}, "text": {"value": "0.1557"}}}
          ]
        },
        {
          "data": {"values": [{}]},
          "encoding": {"y": {"datum": 0.1462, "type": "quantitative", "scale": {"domain": [0.074, 0.418], "nice": false, "zero": false}}},
          "layer": [
            {"mark": {"type": "point", "shape": "M-1.5,-0.5H1.5V0.5H-1.5Z", "size": 576, "filled": true, "opacity": 1, "color": "#8a6df2", "yOffset": -19.1},
             "encoding": {"x": {"datum": {"year": 2025, "month": 6, "date": 21, "hours": 14, "utc": true}, "type": "temporal", "scale": {"type": "utc", "nice": false, "domain": [{"year": 2024, "month": 12, "date": 20, "hours": 8, "utc": true}, {"year": 2025, "month": 6, "date": 15, "hours": 18, "utc": true}]}}}},
            {"mark": {"type": "text", "align": "left", "baseline": "middle", "fontSize": 9, "color": "white", "yOffset": -19.1},
             "encoding": {"x": {"datum": {"year": 2025, "month": 6, "date": 17, "hours": 14, "utc": true}, "type": "temporal", "scale": {"type": "utc", "nice": false, "domain": [{"year": 2024, "month": 12, "date": 20, "hours": 8, "utc": true}, {"year": 2025, "month": 6, "date": 15, "hours": 18, "utc": true}]}}, "text": {"value": "0.1462"}}}
          ]
        },
        {
          "data": {"values": [{}]},
          "encoding": {"y": {"datum": 0.1427, "type": "quantitative", "scale": {"domain": [0.074, 0.418], "nice": false, "zero": false}}},
          "layer": [
            {"mark": {"type": "point", "shape": "M-1.5,-0.5H1.5V0.5H-1.5Z", "size": 576, "filled": true, "opacity": 1, "color": "#8a6df2", "yOffset": -9.4},
             "encoding": {"x": {"datum": {"year": 2025, "month": 6, "date": 21, "hours": 14, "utc": true}, "type": "temporal", "scale": {"type": "utc", "nice": false, "domain": [{"year": 2024, "month": 12, "date": 20, "hours": 8, "utc": true}, {"year": 2025, "month": 6, "date": 15, "hours": 18, "utc": true}]}}}},
            {"mark": {"type": "text", "align": "left", "baseline": "middle", "fontSize": 9, "color": "white", "yOffset": -9.4},
             "encoding": {"x": {"datum": {"year": 2025, "month": 6, "date": 17, "hours": 14, "utc": true}, "type": "temporal", "scale": {"type": "utc", "nice": false, "domain": [{"year": 2024, "month": 12, "date": 20, "hours": 8, "utc": true}, {"year": 2025, "month": 6, "date": 15, "hours": 18, "utc": true}]}}, "text": {"value": "0.1427"}}}
          ]
        },
        {
          "data": {"values": [{}]},
          "encoding": {"y": {"datum": 0.1367, "type": "quantitative", "scale": {"domain": [0.074, 0.418], "nice": false, "zero": false}}},
          "layer": [
            {"mark": {"type": "point", "shape": "M-0.913,-0.5H0.913V0.5H-0.913Z", "size": 2116, "filled": true, "opacity": 1, "color": "#089981", "yOffset": 5.3},
             "encoding": {"x": {"datum": {"year": 2025, "month": 6, "date": 22, "hours": 12, "utc": true}, "type": "temporal", "scale": {"type": "utc", "nice": false, "domain": [{"year": 2024, "month": 12, "date": 20, "hours": 8, "utc": true}, {"year": 2025, "month": 6, "date": 15, "hours": 18, "utc": true}]}}}},
            {"mark": {"type": "text", "align": "left", "baseline": "middle", "fontSize": 9, "color": "white", "yOffset": 0.3},
             "encoding": {"x": {"datum": {"year": 2025, "month": 6, "date": 17, "hours": 14, "utc": true}, "type": "temporal", "scale": {"type": "utc", "nice": false, "domain": [{"year": 2024, "month": 12, "date": 20, "hours": 8, "utc": true}, {"year": 2025, "month": 6, "date": 15, "hours": 18, "utc": true}]}}, "text": {"value": "0.1367"}}},
            {"mark": {"type": "text", "align": "left", "baseline": "middle", "fontSize": 9, "color": "white", "yOffset": 10},
             "encoding": {"x": {"datum": {"year": 2025, "month": 6, "date": 17, "hours": 14, "utc": true}, "type": "temporal", "scale": {"type": "utc", "nice": false, "domain": [{"year": 2024, "month": 12, "date": 20, "hours": 8, "utc": true}, {"year": 2025, "month": 6, "date": 15, "hours": 18, "utc": true}]}}, "text": {"value": "21:13:14"}}}
          ]
        }
      ]
    },
    {
      "width": 578,
      "height": 99,
      "layer": [
        {
          "data": {"name": "candles"},
          "mark": {"type": "rule", "strokeWidth": 1, "color": "#3d9a83"},
          "encoding": {
            "x": {"field": "date", "type": "temporal", "scale": {"type": "utc", "nice": false, "domain": [{"year": 2024, "month": 12, "date": 20, "hours": 8, "utc": true}, {"year": 2025, "month": 6, "date": 15, "hours": 18, "utc": true}]},
                  "axis": {"values": [{"year": 2025, "month": 1, "date": 1, "utc": true}, {"year": 2025, "month": 2, "date": 1, "utc": true}, {"year": 2025, "month": 3, "date": 1, "utc": true}, {"year": 2025, "month": 4, "date": 1, "utc": true}, {"year": 2025, "month": 5, "date": 1, "utc": true}, {"year": 2025, "month": 6, "date": 1, "utc": true}],
                           "labelExpr": "utcmonth(datum.value) == 0 ? utcFormat(datum.value, '%Y') : (utcmonth(datum.value) + 1) + '월'",
                           "ticks": false, "domain": false, "grid": true, "labelPadding": 3, "labelFontSize": 9,
                           "title": "TradingView", "titleX": 18, "titleY": 31, "titleAlign": "left", "titleBaseline": "middle", "titleFontSize": 10.5, "titleFontWeight": 500, "titleColor": "#131722"}},
            "y": {"field": "hist", "type": "quantitative", "scale": {"domain": [-0.0452, 0.029], "nice": false, "zero": false},
                  "axis": {"orient": "right", "values": [0.02, 0, -0.02, -0.04], "format": ".4f", "labelExpr": "datum.value > -0.03 && datum.value < 0.01 ? '' : datum.label", "ticks": false, "domain": false, "labelPadding": 7, "grid": true, "title": null}},
            "y2": {"datum": 0}
          }
        },
        {
          "data": {"name": "macd"},
          "transform": [{"filter": "datum.line == 'Signal'"}],
          "mark": {"type": "line", "strokeWidth": 1.5, "color": "#a8322e", "clip": true},
          "encoding": {
            "x": {"field": "date", "type": "temporal", "scale": {"type": "utc", "nice": false, "domain": [{"year": 2024, "month": 12, "date": 20, "hours": 8, "utc": true}, {"year": 2025, "month": 6, "date": 15, "hours": 18, "utc": true}]}},
            "y": {"field": "value", "type": "quantitative", "scale": {"domain": [-0.0452, 0.029], "nice": false, "zero": false}}
          }
        },
        {
          "data": {"name": "macd"},
          "transform": [{"filter": "datum.line == 'MACD'"}],
          "mark": {"type": "line", "strokeWidth": 1.5, "color": "#4f80ff", "clip": true},
          "encoding": {
            "x": {"field": "date", "type": "temporal", "scale": {"type": "utc", "nice": false, "domain": [{"year": 2024, "month": 12, "date": 20, "hours": 8, "utc": true}, {"year": 2025, "month": 6, "date": 15, "hours": 18, "utc": true}]}},
            "y": {"field": "value", "type": "quantitative", "scale": {"domain": [-0.0452, 0.029], "nice": false, "zero": false}}
          }
        },
        {
          "data": {"values": [{}]},
          "encoding": {"y": {"datum": 0.000000001, "type": "quantitative", "scale": {"domain": [-0.0452, 0.029], "nice": false, "zero": false}}},
          "layer": [
            {"mark": {"type": "point", "shape": "M-1.5,-0.5H1.5V0.5H-1.5Z", "size": 576, "filled": true, "opacity": 1, "color": "#787b86", "yOffset": -0.2},
             "encoding": {"x": {"datum": {"year": 2025, "month": 6, "date": 21, "hours": 14, "utc": true}, "type": "temporal", "scale": {"type": "utc", "nice": false, "domain": [{"year": 2024, "month": 12, "date": 20, "hours": 8, "utc": true}, {"year": 2025, "month": 6, "date": 15, "hours": 18, "utc": true}]}}}},
            {"mark": {"type": "text", "align": "left", "baseline": "middle", "fontSize": 9, "color": "white", "yOffset": -0.2},
             "encoding": {"x": {"datum": {"year": 2025, "month": 6, "date": 17, "hours": 14, "utc": true}, "type": "temporal", "scale": {"type": "utc", "nice": false, "domain": [{"year": 2024, "month": 12, "date": 20, "hours": 8, "utc": true}, {"year": 2025, "month": 6, "date": 15, "hours": 18, "utc": true}]}}, "text": {"value": "0.0000"}}}
          ]
        },
        {
          "data": {"values": [{}]},
          "encoding": {"y": {"datum": -0.0001, "type": "quantitative", "scale": {"domain": [-0.0452, 0.029], "nice": false, "zero": false}}},
          "layer": [
            {"mark": {"type": "point", "shape": "M-1.625,-0.5H1.625V0.5H-1.625Z", "size": 576, "filled": true, "opacity": 1, "color": "#801313", "yOffset": 12.4},
             "encoding": {"x": {"datum": {"year": 2025, "month": 6, "date": 22, "hours": 1, "utc": true}, "type": "temporal", "scale": {"type": "utc", "nice": false, "domain": [{"year": 2024, "month": 12, "date": 20, "hours": 8, "utc": true}, {"year": 2025, "month": 6, "date": 15, "hours": 18, "utc": true}]}}}},
            {"mark": {"type": "text", "align": "left", "baseline": "middle", "fontSize": 9, "color": "white", "yOffset": 12.4},
             "encoding": {"x": {"datum": {"year": 2025, "month": 6, "date": 17, "hours": 14, "utc": true}, "type": "temporal", "scale": {"type": "utc", "nice": false, "domain": [{"year": 2024, "month": 12, "date": 20, "hours": 8, "utc": true}, {"year": 2025, "month": 6, "date": 15, "hours": 18, "utc": true}]}}, "text": {"value": "−0.0001"}}}
          ]
        },
        {
          "data": {"values": [{}]},
          "encoding": {"y": {"datum": -0.0007, "type": "quantitative", "scale": {"domain": [-0.0452, 0.029], "nice": false, "zero": false}}},
          "layer": [
            {"mark": {"type": "point", "shape": "M-1.625,-0.5H1.625V0.5H-1.625Z", "size": 576, "filled": true, "opacity": 1, "color": "#16604f", "yOffset": 23.8},
             "encoding": {"x": {"datum": {"year": 2025, "month": 6, "date": 22, "hours": 1, "utc": true}, "type": "temporal", "scale": {"type": "utc", "nice": false, "domain": [{"year": 2024, "month": 12, "date": 20, "hours": 8, "utc": true}, {"year": 2025, "month": 6, "date": 15, "hours": 18, "utc": true}]}}}},
            {"mark": {"type": "text", "align": "left", "baseline": "middle", "fontSize": 9, "color": "white", "yOffset": 23.8},
             "encoding": {"x": {"datum": {"year": 2025, "month": 6, "date": 17, "hours": 14, "utc": true}, "type": "temporal", "scale": {"type": "utc", "nice": false, "domain": [{"year": 2024, "month": 12, "date": 20, "hours": 8, "utc": true}, {"year": 2025, "month": 6, "date": 15, "hours": 18, "utc": true}]}}, "text": {"value": "−0.0007"}}}
          ]
        },
        {
          "data": {"values": [{}]},
          "encoding": {"y": {"datum": -0.0008, "type": "quantitative", "scale": {"domain": [-0.0452, 0.029], "nice": false, "zero": false}}},
          "layer": [
            {"mark": {"type": "point", "shape": "M-1.625,-0.5H1.625V0.5H-1.625Z", "size": 576, "filled": true, "opacity": 1, "color": "#2962ff", "yOffset": 36.3},
             "encoding": {"x": {"datum": {"year": 2025, "month": 6, "date": 22, "hours": 1, "utc": true}, "type": "temporal", "scale": {"type": "utc", "nice": false, "domain": [{"year": 2024, "month": 12, "date": 20, "hours": 8, "utc": true}, {"year": 2025, "month": 6, "date": 15, "hours": 18, "utc": true}]}}}},
            {"mark": {"type": "text", "align": "left", "baseline": "middle", "fontSize": 9, "color": "white", "yOffset": 36.3},
             "encoding": {"x": {"datum": {"year": 2025, "month": 6, "date": 17, "hours": 14, "utc": true}, "type": "temporal", "scale": {"type": "utc", "nice": false, "domain": [{"year": 2024, "month": 12, "date": 20, "hours": 8, "utc": true}, {"year": 2025, "month": 6, "date": 15, "hours": 18, "utc": true}]}}, "text": {"value": "−0.0008"}}}
          ]
        }
      ]
    }
  ]
}
